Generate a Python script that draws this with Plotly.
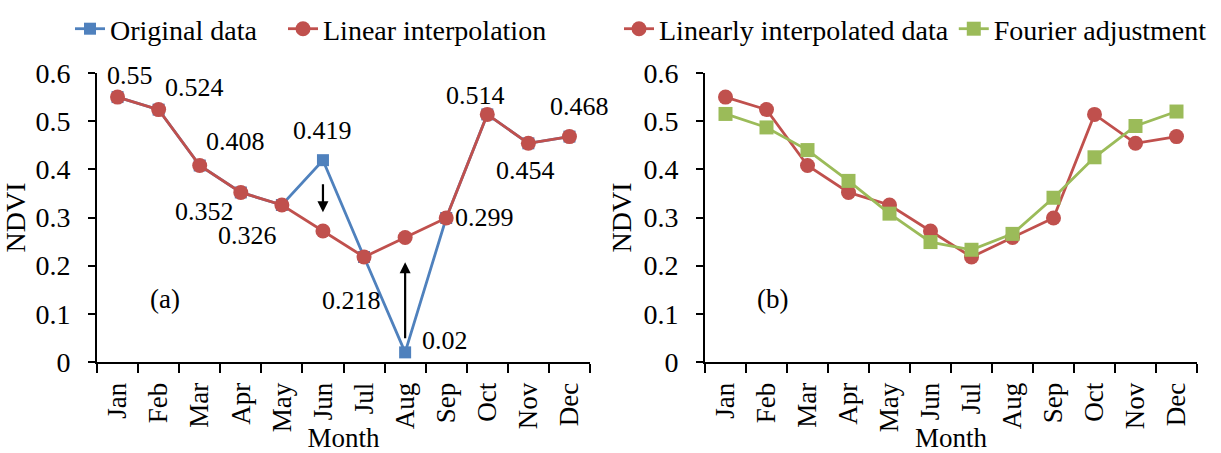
import plotly.graph_objects as go

# NDVI monthly series
months = ["Jan", "Feb", "Mar", "Apr", "May", "Jun", "Jul", "Aug", "Sep", "Oct", "Nov", "Dec"]
original = [0.55, 0.524, 0.408, 0.352, 0.326, 0.419, 0.218, 0.02, 0.299, 0.514, 0.454, 0.468]
linear = [0.55, 0.524, 0.408, 0.352, 0.326, 0.272, 0.218, 0.2585, 0.299, 0.514, 0.454, 0.468]
fourier = [0.515, 0.487, 0.44, 0.376, 0.308, 0.249, 0.233, 0.266, 0.341, 0.425, 0.49, 0.52]

# Value labels in panel (a): (series, month index, x offset px, y offset px)
value_labels = [
    (original, 0, 12, 22), (original, 1, 36, 22), (original, 2, 36, 24),
    (original, 3, -36, -19), (original, 4, -34, -31), (original, 5, 0, 30),
    (original, 6, -13, -43), (original, 7, 40, 12), (original, 8, 38, 0),
    (original, 9, -12, 19), (original, 10, -3, -27), (original, 11, 10, 30),
]

BLUE = "#4F81BD"
RED = "#C0504D"
GREEN = "#9BBB59"
FONT = "Liberation Serif"

W, H = 1221, 453
xa_dom = [97 / W, 590 / W]
xb_dom = [705 / W, 1197 / W]
y_dom = [1 - 362 / H, 1 - 73 / H]

fig = go.Figure()

fig.add_trace(go.Scatter(
    x=months, y=original, name="Original data", mode="lines+markers", showlegend=True,
    line=dict(color=BLUE, width=2.8), marker=dict(symbol="square", size=12, color=BLUE),
    xaxis="x", yaxis="y", legend="legend"))
fig.add_trace(go.Scatter(
    x=months, y=linear, name="Linear interpolation", mode="lines+markers", showlegend=True,
    line=dict(color=RED, width=2.8), marker=dict(symbol="circle", size=15, color=RED),
    xaxis="x", yaxis="y", legend="legend3"))

fig.add_trace(go.Scatter(
    x=months, y=linear, name="Linearly interpolated data", mode="lines+markers", showlegend=True,
    line=dict(color=RED, width=2.8), marker=dict(symbol="circle", size=15, color=RED),
    xaxis="x2", yaxis="y2", legend="legend2"))
fig.add_trace(go.Scatter(
    x=months, y=fourier, name="Fourier adjustment", mode="lines+markers", showlegend=True,
    line=dict(color=GREEN, width=2.8), marker=dict(symbol="square", size=14, color=GREEN),
    xaxis="x2", yaxis="y2", legend="legend2"))

annotations = []
for series, i, dx, dy in value_labels:
    v = series[i]
    annotations.append(dict(
        x=months[i], y=v, xref="x", yref="y", text=f"{v:g}", showarrow=False,
        xshift=dx, yshift=dy, font=dict(family=FONT, size=26, color="black")))

# arrows showing the corrections in panel (a)
annotations.append(dict(x="Jun", y=0.311, ax="Jun", ay=0.372, xref="x", yref="y",
                        axref="x", ayref="y", showarrow=True, arrowhead=2,
                        arrowsize=1, arrowwidth=2.2, arrowcolor="black", text=""))
annotations.append(dict(x="Aug", y=0.207, ax="Aug", ay=0.046, xref="x", yref="y",
                        axref="x", ayref="y", showarrow=True, arrowhead=2,
                        arrowsize=1, arrowwidth=2.2, arrowcolor="black", text=""))

annotations.append(dict(x=1.15, y=0.13, xref="x", yref="y", text="(a)", showarrow=False,
                        font=dict(family=FONT, size=27, color="black")))
annotations.append(dict(x=1.15, y=0.13, xref="x2", yref="y2", text="(b)", showarrow=False,
                        font=dict(family=FONT, size=27, color="black")))

xaxis_style = dict(
    type="category", range=[-0.5, 11.5], showline=True, linecolor="black", linewidth=2,
    ticks="outside", tickson="boundaries", ticklen=9, tickwidth=2, tickcolor="black",
    tickangle=-90, showgrid=False, zeroline=False, automargin=False,
    ticklabelstandoff=8,
    tickfont=dict(family=FONT, size=27, color="black"),
    title=dict(text="Month", font=dict(family=FONT, size=27, color="black"), standoff=0),
)
yaxis_style = dict(
    range=[0, 0.6], dtick=0.1, showline=True, linecolor="black", linewidth=2,
    ticks="outside", ticklen=7, tickwidth=2, tickcolor="black", showgrid=False,
    zeroline=False, automargin=False, ticklabelstandoff=12,
    tickfont=dict(family=FONT, size=28, color="black"),
    title=dict(text="NDVI", font=dict(family=FONT, size=28, color="black"), standoff=4),
)

legend_style = dict(orientation="h", yanchor="middle", xanchor="left", y=1 - 29 / H,
                    bgcolor="rgba(0,0,0,0)", font=dict(family=FONT, size=28, color="black"),
                    itemwidth=30, tracegroupgap=0, visible=True)

fig.update_layout(
    width=W, height=H, margin=dict(l=0, r=0, t=0, b=0, autoexpand=False),
    paper_bgcolor="white", plot_bgcolor="white", showlegend=True,
    xaxis=dict(domain=xa_dom, anchor="y", **xaxis_style),
    yaxis=dict(domain=y_dom, anchor="x", **yaxis_style),
    xaxis2=dict(domain=xb_dom, anchor="y2", **xaxis_style),
    yaxis2=dict(domain=y_dom, anchor="x2", **yaxis_style),
    legend=dict(x=70 / W, **legend_style),
    legend3=dict(x=283 / W, **legend_style),
    legend2=dict(x=619 / W, **legend_style),
    annotations=annotations,
    font=dict(family=FONT, color="black"),
)

fig.write_html("out.html")
